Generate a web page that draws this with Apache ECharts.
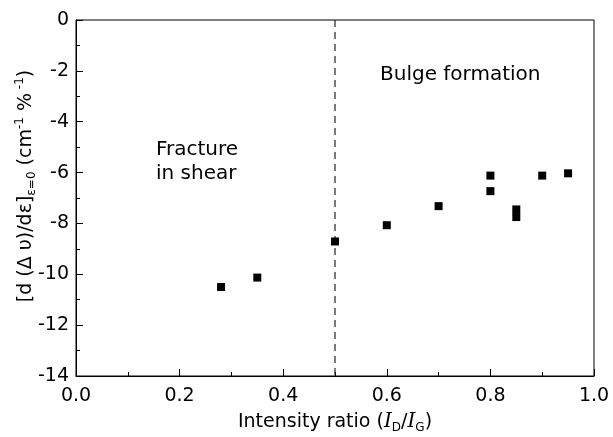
<!DOCTYPE html>
<html>
<head>
<meta charset="utf-8">
<script src="https://cdn.jsdelivr.net/npm/echarts@6/dist/echarts.min.js"></script>
<style>
html,body{margin:0;padding:0;background:#fff;}
#c{width:613px;height:437px;}
</style>
</head>
<body>
<div id="c"></div>
<script>
// Data
const intensityRatio = [0.28, 0.35, 0.50, 0.60, 0.70, 0.80, 0.80, 0.85, 0.85, 0.90, 0.95];
const slopeValues    = [-10.5, -10.13, -8.71, -8.07, -7.32, -6.12, -6.73, -7.45, -7.75, -6.12, -6.03];
const boundaryX = 0.5;
const boundaryY = [0, -14];
const xTicks = [0.0, 0.2, 0.4, 0.6, 0.8, 1.0];
const yTicks = [0, -2, -4, -6, -8, -10, -12, -14];

const font = '"DejaVu Sans", Verdana, sans-serif';
const serif = '"DejaVu Serif", "Liberation Serif", serif';
const chart = echarts.init(document.getElementById('c'), null, {renderer: 'canvas'});

const points = intensityRatio.map((x, i) => [x, slopeValues[i]]);
const boundary = boundaryY.map(y => [boundaryX, y]);

chart.setOption({
  backgroundColor: '#fff',
  animation: false,
  grid: {left: 76, right: 19, top: 20, bottom: 61, containLabel: false, outerBoundsMode: 'none',
         show: true, borderColor: '#000', borderWidth: 1, backgroundColor: 'transparent'},
  xAxis: {
    type: 'value',
    min: xTicks[0], max: xTicks[xTicks.length - 1], interval: 0.2,
    axisLine: {show: true, onZero: false, lineStyle: {color: '#000', width: 1}},
    axisTick: {show: true, inside: true, length: 7, lineStyle: {color: '#000'}},
    minorTick: {show: true, splitNumber: 2, length: 4, lineStyle: {color: '#000'}},
    splitLine: {show: false},
    axisLabel: {color: '#000', fontSize: 19, fontFamily: font, margin: 11, formatter: v => v.toFixed(1)},
    name: '{n|Intensity ratio (}{it|I}{sub|D}{n|/}{it|I}{sub|G}{n|)}',
    nameLocation: 'middle',
    nameMoveOverlap: false,
    nameGap: 34,
    nameTextStyle: {
      fontFamily: font, color: '#000',
      rich: {
        n: {fontSize: 19, fontFamily: font, color: '#000', lineHeight: 24},
        it: {fontSize: 20, fontFamily: serif, fontStyle: 'italic', color: '#000', lineHeight: 24},
        sub: {fontSize: 12, fontFamily: font, color: '#000', verticalAlign: 'bottom', lineHeight: 24}
      }
    }
  },
  yAxis: {
    type: 'value',
    min: yTicks[yTicks.length - 1], max: yTicks[0], interval: 2,
    axisLine: {show: true, onZero: false, lineStyle: {color: '#000', width: 1}},
    axisTick: {show: true, inside: true, length: 7, lineStyle: {color: '#000'}},
    minorTick: {show: true, splitNumber: 2, length: 4, lineStyle: {color: '#000'}},
    splitLine: {show: false},
    axisLabel: {color: '#000', fontSize: 19, fontFamily: font, margin: 7},
    name: '{n|[d (Δ υ)/dε]}{sub|ε=0}{n| (cm}{sup|-1}{n| %}{sup| -1}{n|)}',
    nameLocation: 'middle',
    nameRotate: 90,
    nameMoveOverlap: false,
    nameGap: 38,
    nameTextStyle: {
      fontFamily: font, color: '#000',
      padding: [0, 0, 0, 24],
      rich: {
        n: {fontSize: 19, fontFamily: font, color: '#000', lineHeight: 24},
        sub: {fontSize: 12, fontFamily: font, color: '#000', verticalAlign: 'bottom', lineHeight: 24},
        sup: {fontSize: 12, fontFamily: font, color: '#000', verticalAlign: 'top', lineHeight: 24}
      }
    }
  },
  series: [
    {
      type: 'line',
      data: boundary,
      symbol: 'none',
      lineStyle: {color: '#222', width: 1.2, type: [7, 5]},
      silent: true,
      z: 1
    },
    {
      type: 'scatter',
      data: points,
      symbol: 'rect',
      symbolSize: 8,
      itemStyle: {color: '#000', opacity: 1},
      z: 3
    }
  ],
  graphic: [
    {type: 'text', left: 380, top: 63, style: {text: 'Bulge formation', fontSize: 20, lineHeight: 24, fontFamily: font, fill: '#000'}},
    {type: 'text', left: 156, top: 138, style: {text: 'Fracture\nin shear', fontSize: 20, lineHeight: 24, fontFamily: font, fill: '#000'}}
  ]
});
</script>
</body>
</html>
